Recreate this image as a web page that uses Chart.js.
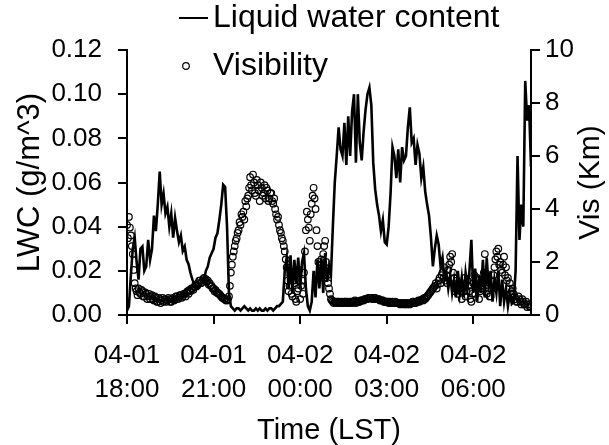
<!DOCTYPE html>
<html>
<head>
<meta charset="utf-8">
<title>LWC and visibility</title>
<script src="https://cdn.jsdelivr.net/npm/chart.js@4.4.0/dist/chart.umd.min.js"></script>
<style>
  html, body { margin: 0; padding: 0; background: #fff; }
  #chart { display: block; }
</style>
</head>
<body>
<canvas id="chart" width="609" height="445"></canvas>
<script>
// series start at 04-01 18:00 LST; LWC every 4 min, visibility every 2 min
var lwcStepMin = 4;
var visStepMin = 2;

// liquid water content, g/m^3
var lwc = [
  0.002, 0.004, 0.018, 0.030, 0.035, 0.024, 0.016, 0.030, 0.031, 0.020,
  0.022, 0.034, 0.025, 0.030, 0.045, 0.038, 0.050, 0.065, 0.050, 0.055,
  0.046, 0.049, 0.040, 0.046, 0.035, 0.044, 0.038, 0.033, 0.036, 0.029,
  0.031, 0.025, 0.023, 0.019, 0.016, 0.014, 0.013, 0.012, 0.013, 0.015,
  0.016, 0.020, 0.022, 0.026, 0.028, 0.030, 0.035, 0.037, 0.043, 0.050,
  0.059, 0.058, 0.040, 0.010, 0.004, 0.003, 0.002, 0.003, 0.003, 0.002,
  0.003, 0.004, 0.003, 0.002, 0.003, 0.002, 0.002, 0.003, 0.002, 0.003,
  0.002, 0.002, 0.003, 0.002, 0.003, 0.003, 0.002, 0.003, 0.004, 0.004,
  0.005, 0.006, 0.020, 0.026, 0.012, 0.027, 0.010, 0.025, 0.014, 0.026,
  0.012, 0.024, 0.028, 0.012, 0.004, 0.002, 0.006, 0.020, 0.008, 0.025,
  0.012, 0.026, 0.010, 0.028, 0.015, 0.022, 0.018, 0.040, 0.060, 0.072,
  0.085, 0.075, 0.072, 0.087, 0.068, 0.090, 0.072, 0.092, 0.100, 0.069,
  0.100, 0.078, 0.070, 0.083, 0.093, 0.100, 0.103, 0.095, 0.069, 0.057,
  0.050, 0.045, 0.038, 0.043, 0.033, 0.032, 0.040, 0.055, 0.076, 0.072,
  0.062, 0.075, 0.060, 0.076, 0.070, 0.072, 0.085, 0.094, 0.078, 0.080,
  0.068, 0.077, 0.073, 0.062, 0.067, 0.056, 0.050, 0.045, 0.035, 0.022,
  0.030, 0.036, 0.032, 0.022, 0.026, 0.016, 0.019, 0.012, 0.018, 0.010,
  0.016, 0.008, 0.020, 0.010, 0.017, 0.008, 0.019, 0.012, 0.020, 0.034,
  0.010, 0.021, 0.006, 0.018, 0.010, 0.025, 0.008, 0.026, 0.012, 0.020,
  0.006, 0.016, 0.010, 0.020, 0.004, 0.016, 0.006, 0.012, 0.004, 0.010,
  0.005, 0.006, 0.020, 0.072, 0.034, 0.050, 0.040, 0.106, 0.088, 0.095,
  0.067
];

// visibility, km
var vis = [
  3.4, 2.9, 3.7, 3.3, 3.0, 2.6, 2.3, 1.7, 1.2, 1.0,
  0.9, 0.75, 1.0, 0.85, 0.8, 0.95, 0.9, 0.7, 0.7, 0.85,
  0.8, 0.6, 0.7, 0.8, 0.6, 0.7, 0.75, 0.6, 0.55, 0.7,
  0.65, 0.5, 0.5, 0.65, 0.6, 0.45, 0.55, 0.65, 0.5, 0.6,
  0.6, 0.5, 0.55, 0.65, 0.6, 0.5, 0.5, 0.6, 0.65, 0.55,
  0.6, 0.7, 0.7, 0.6, 0.65, 0.75, 0.75, 0.65, 0.7, 0.8,
  0.8, 0.7, 0.85, 0.9, 0.8, 0.95, 0.9, 1.0, 1.0, 0.95,
  1.05, 1.15, 1.15, 1.1, 1.2, 1.3, 1.3, 1.2, 1.25, 1.35,
  1.4, 1.3, 1.35, 1.25, 1.3, 1.15, 1.2, 1.1, 1.1, 1.0,
  1.0, 0.9, 0.95, 0.85, 0.85, 0.8, 0.8, 0.75, 0.7, 0.65,
  0.65, 0.6, 0.6, 0.55, 0.55, 0.6, 0.7, 1.1, 1.6, 1.9,
  2.2, 2.4, 2.6, 2.8, 2.9, 3.1, 3.2, 3.5, 3.4, 3.8,
  3.7, 3.9, 3.6, 4.3, 4.1, 4.4, 4.5, 4.8, 5.2, 4.9,
  4.7, 5.3, 5.0, 4.6, 4.5, 5.1, 4.9, 4.7, 4.3, 5.0,
  4.8, 4.5, 4.6, 4.9, 4.4, 4.8, 4.7, 4.3, 4.4, 4.6,
  4.6, 4.3, 4.2, 4.4, 4.0, 3.8, 3.6, 3.7, 3.4, 3.2,
  3.1, 2.9, 2.8, 2.6, 2.4, 2.1, 1.8, 1.3, 0.9, 1.1,
  1.5, 0.8, 0.7, 1.3, 1.2, 0.6, 0.5, 0.9, 1.0, 1.7,
  0.6, 1.1, 1.3, 0.8, 1.6, 2.4, 3.2, 3.9, 3.6, 3.3,
  2.8, 3.8, 4.2, 4.5, 4.8, 4.4, 4.0, 3.2, 2.6, 2.0,
  1.6, 1.9, 2.1, 1.7, 2.3, 2.6, 2.8, 2.0, 1.5, 1.2,
  1.0, 0.8, 0.6, 0.55, 0.5, 0.45, 0.5, 0.5, 0.45, 0.5,
  0.5, 0.45, 0.45, 0.5, 0.45, 0.45, 0.5, 0.5, 0.45, 0.5,
  0.45, 0.45, 0.5, 0.5, 0.45, 0.5, 0.5, 0.55, 0.45, 0.5,
  0.5, 0.5, 0.5, 0.55, 0.55, 0.55, 0.55, 0.6, 0.6, 0.6,
  0.6, 0.65, 0.65, 0.65, 0.65, 0.6, 0.6, 0.65, 0.65, 0.6,
  0.6, 0.6, 0.6, 0.55, 0.55, 0.55, 0.55, 0.5, 0.5, 0.5,
  0.5, 0.5, 0.45, 0.5, 0.45, 0.45, 0.5, 0.45, 0.45, 0.5,
  0.45, 0.45, 0.45, 0.45, 0.4, 0.45, 0.45, 0.45, 0.4, 0.45,
  0.45, 0.4, 0.45, 0.45, 0.4, 0.45, 0.45, 0.5, 0.5, 0.45,
  0.45, 0.5, 0.5, 0.55, 0.5, 0.55, 0.55, 0.6, 0.55, 0.65,
  0.6, 0.65, 0.7, 0.75, 0.8, 0.85, 0.9, 0.95, 1.0, 1.05,
  1.1, 1.2, 1.0, 1.15, 1.3, 1.4, 1.2, 1.5, 1.6, 1.4,
  1.8, 1.3, 1.5, 1.2, 1.7, 1.9, 2.2, 2.0, 2.3, 1.6,
  1.4, 0.9, 1.0, 1.3, 0.8, 1.0, 1.2, 0.9, 0.6, 1.0,
  1.1, 1.4, 0.7, 0.9, 1.3, 1.1, 0.9, 0.6, 0.5, 0.8,
  1.2, 1.5, 0.8, 1.1, 1.4, 1.0, 0.6, 0.9, 1.0, 1.3,
  1.2, 1.6, 2.3, 1.4, 0.8, 1.0, 1.1, 0.7, 0.7, 1.0,
  1.3, 1.5, 1.8, 2.1, 2.4, 2.2, 2.5, 1.9, 2.0, 1.7,
  1.6, 1.9, 2.2, 1.5, 1.8, 1.3, 1.4, 1.0, 1.2, 0.8,
  0.9, 1.0, 0.8, 0.7, 0.6, 0.5, 0.5, 0.7, 0.6, 0.5,
  0.4, 0.6, 0.5, 0.4, 0.4, 0.5, 0.3, 0.4, 0.4, 0.3,
  0.3
];

// x ticks, minutes after 04-01 18:00
var tickMin = [0, 180, 360, 540, 720];
var tickDay = ['04-01', '04-01', '04-02', '04-02', '04-02'];
var tickHour = ['18:00', '21:00', '00:00', '03:00', '06:00'];
var lwcTicks = [0, 0.02, 0.04, 0.06, 0.08, 0.10, 0.12];
var visTicks = [0, 2, 4, 6, 8, 10];

var FONT = '"Liberation Sans", Arial, sans-serif';
Chart.defaults.font.family = FONT;
Chart.defaults.color = '#000';

function toPoints(arr, step) {
  var pts = [];
  for (var i = 0; i < arr.length; i++) {
    pts.push({ x: i * step, y: arr[i] });
  }
  return pts;
}

function setTicks(list) {
  return function (scale) {
    scale.ticks = list.map(function (v) { return { value: v }; });
  };
}

// legend: line entry above the plot, marker entry inside it
var legendPlugin = {
  id: 'twoRowLegend',
  afterDraw: function (chart) {
    var ctx = chart.ctx;
    var ds = chart.data.datasets;
    ctx.save();
    ctx.font = '32px ' + FONT;
    ctx.fillStyle = '#000';
    ctx.strokeStyle = '#000';
    ctx.textBaseline = 'middle';
    ctx.lineWidth = 2;
    ctx.beginPath();
    ctx.moveTo(179, 18);
    ctx.lineTo(208, 18);
    ctx.stroke();
    ctx.fillText(ds[0].label, 213, 18);
    ctx.lineWidth = 1.2;
    ctx.beginPath();
    ctx.arc(186, 66, 3.3, 0, Math.PI * 2);
    ctx.stroke();
    ctx.fillText(ds[1].label, 213, 66);
    ctx.restore();
  }
};

// right axis title, reading upward like the left one
var rightTitlePlugin = {
  id: 'rightTitle',
  afterDraw: function (chart) {
    var ctx = chart.ctx;
    var sc = chart.scales.y1;
    ctx.save();
    ctx.font = '30px ' + FONT;
    ctx.fillStyle = '#000';
    ctx.textAlign = 'center';
    ctx.textBaseline = 'middle';
    ctx.translate(sc.right - 18, (sc.top + sc.bottom) / 2);
    ctx.rotate(-Math.PI / 2);
    ctx.fillText(sc.options.title.text, 0, 0);
    ctx.restore();
  }
};

var axisGrid = {
  display: true,
  drawOnChartArea: false,
  drawTicks: true,
  tickLength: 9,
  color: '#000',
  lineWidth: 2
};

new Chart(document.getElementById('chart'), {
  type: 'scatter',
  data: {
    datasets: [{
      label: 'Liquid water content',
      data: toPoints(lwc, lwcStepMin),
      yAxisID: 'y',
      showLine: true,
      borderColor: '#000',
      borderWidth: 2.6,
      pointRadius: 0,
      tension: 0
    }, {
      label: 'Visibility',
      data: toPoints(vis, visStepMin),
      yAxisID: 'y1',
      showLine: false,
      pointRadius: 3.3,
      pointBorderWidth: 1.2,
      pointBorderColor: '#000',
      pointBackgroundColor: 'rgba(0,0,0,0)'
    }]
  },
  options: {
    responsive: false,
    animation: false,
    devicePixelRatio: 1,
    layout: { padding: { top: 50, left: 0, right: 0, bottom: 0 } },
    plugins: {
      legend: { display: false },
      tooltip: { enabled: false }
    },
    scales: {
      x: {
        type: 'linear',
        position: 'bottom',
        min: 0,
        max: 840,
        afterBuildTicks: setTicks(tickMin),
        afterFit: function (scale) { scale.height = 130; },
        grid: axisGrid,
        border: { display: true, color: '#000', width: 2 },
        ticks: {
          font: { size: 26, lineHeight: 1.3 },
          padding: 15,
          maxRotation: 0,
          callback: function (v) {
            var k = tickMin.indexOf(v);
            return k < 0 ? '' : [tickDay[k], tickHour[k]];
          }
        },
        title: {
          display: true,
          text: 'Time (LST)',
          font: { size: 29, lineHeight: 1.0 },
          padding: { top: 0, bottom: 0 }
        }
      },
      y: {
        position: 'left',
        min: 0,
        max: 0.12,
        afterBuildTicks: setTicks(lwcTicks),
        afterFit: function (scale) { scale.width = 127; },
        grid: axisGrid,
        border: { display: true, color: '#000', width: 2 },
        ticks: {
          font: { size: 26 },
          padding: 16,
          callback: function (v) { return v.toFixed(2); }
        },
        title: {
          display: true,
          text: 'LWC (g/m^3)',
          font: { size: 31, lineHeight: 1.0 },
          padding: { top: 15, bottom: 0 }
        }
      },
      y1: {
        position: 'right',
        min: 0,
        max: 10,
        afterBuildTicks: setTicks(visTicks),
        afterFit: function (scale) { scale.width = 78; },
        grid: axisGrid,
        border: { display: true, color: '#000', width: 2 },
        ticks: {
          font: { size: 26 },
          padding: 5,
          callback: function (v) { return String(v); }
        },
        title: {
          display: false,
          text: 'Vis (Km)'
        }
      }
    }
  },
  plugins: [legendPlugin, rightTitlePlugin]
});
</script>
</body>
</html>
